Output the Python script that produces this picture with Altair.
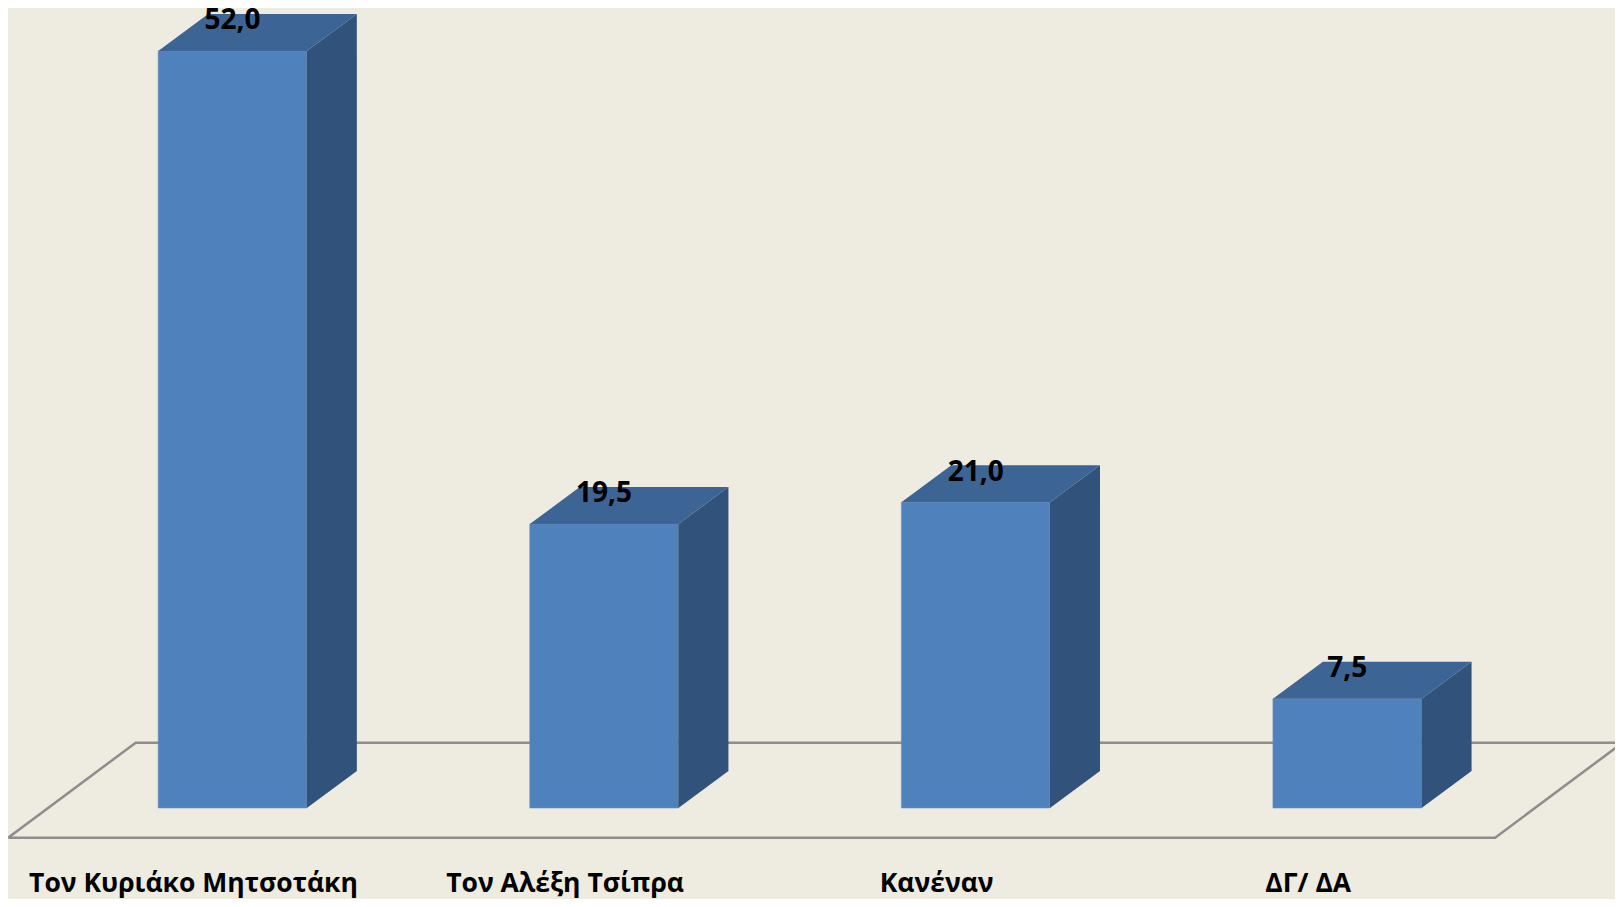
import altair as alt
import pandas as pd

# ---- data ----
categories = ["Τον Κυριάκο Μητσοτάκη", "Τον Αλέξη Τσίπρα", "Κανέναν", "ΔΓ/ ΔΑ"]
values = [52.0, 19.5, 21.0, 7.5]
value_labels = ["52,0", "19,5", "21,0", "7,5"]

# ---- geometry / style constants (in scale units) ----
HALF_W = 0.2
DX = 0.1346
DY = 2.54
LABEL_SHIFT = -0.105
LABEL_Y = -5.8
VAL_OFF = 1.49
X_DOM = [-0.6042, 3.7206]
Y_DOM = [-6.25, 54.945]

FRONT = "#4F81BD"
TOP = "#3C6596"
SIDE = "#31527A"
FLOOR = "#8E8E8E"
BG = "#EEEBE1"
FONT = "Open Sans"

base = pd.DataFrame({"cat": categories, "value": values, "label": value_labels,
                     "i": list(range(len(categories)))})

front = base.assign(u0=base.i - HALF_W, u1=base.i + HALF_W, zero=0.0)

side_rows, top_rows = [], []
for i, (c, v) in enumerate(zip(categories, values)):
    r = i + HALF_W
    l = i - HALF_W
    side_rows.append({"bar": i, "u": r, "lo": 0.0, "hi": v})
    side_rows.append({"bar": i, "u": r + DX, "lo": DY, "hi": v + DY})
    top_rows.append({"bar": i, "u": l, "lo": v, "hi": v})
    top_rows.append({"bar": i, "u": l + DX, "lo": v, "hi": v + DY})
    top_rows.append({"bar": i, "u": r, "lo": v, "hi": v + DY})
    top_rows.append({"bar": i, "u": r + DX, "lo": v + DY, "hi": v + DY})
side = pd.DataFrame(side_rows)
top = pd.DataFrame(top_rows)

f_front_l, f_front_r = -0.6035, 3.398
f_dx, f_back, f_front = 0.343, 4.485, -2.04
floor = pd.DataFrame({
    "u": [f_front_l, f_front_r, f_front_r + f_dx, f_front_l + f_dx, f_front_l],
    "v": [f_front, f_front, f_back, f_back, f_front],
    "o": [0, 1, 2, 3, 4],
})

xs = alt.Scale(domain=X_DOM, nice=False, zero=False)
ys = alt.Scale(domain=Y_DOM, nice=False, zero=False)

floor_layer = alt.Chart(floor).mark_line(color=FLOOR, strokeWidth=2.5).encode(
    x=alt.X("u:Q", scale=xs, axis=None),
    y=alt.Y("v:Q", scale=ys, axis=None),
    order="o:Q",
)

front_layer = alt.Chart(front).mark_rect(color=FRONT, stroke="#6E8FB8", strokeWidth=0.6).encode(
    x=alt.X("u0:Q", scale=xs, axis=None),
    x2="u1:Q",
    y=alt.Y("zero:Q", scale=ys, axis=None),
    y2="value:Q",
)

side_layer = alt.Chart(side).mark_area(fill=SIDE, opacity=1, orient="vertical").encode(
    x=alt.X("u:Q", scale=xs, axis=None),
    y=alt.Y("lo:Q", scale=ys, axis=None),
    y2=alt.Y2("hi:Q"),
    detail="bar:N",
)

top_layer = alt.Chart(top).mark_area(fill=TOP, opacity=1, orient="vertical").encode(
    x=alt.X("u:Q", scale=xs, axis=None),
    y=alt.Y("lo:Q", scale=ys, axis=None),
    y2=alt.Y2("hi:Q"),
    detail="bar:N",
)

val_text = alt.Chart(base).transform_calculate(
    ty=f"datum.value + {VAL_OFF}"
).mark_text(font=FONT, fontSize=28, fontWeight="bold", color="#000000",
            align="center", baseline="alphabetic").encode(
    x=alt.X("i:Q", scale=xs, axis=None),
    y=alt.Y("ty:Q", scale=ys, axis=None),
    text="label:N",
)

cat_text = alt.Chart(base).transform_calculate(
    tx=f"datum.i + {LABEL_SHIFT}", ty=f"{LABEL_Y}"
).mark_text(font=FONT, fontSize=26.5, fontWeight="bold", color="#000000",
            align="center", baseline="alphabetic").encode(
    x=alt.X("tx:Q", scale=xs, axis=None),
    y=alt.Y("ty:Q", scale=ys, axis=None),
    text="cat:N",
)

chart = alt.layer(
    floor_layer, front_layer, side_layer, top_layer, val_text, cat_text
).properties(
    width=1607, height=891, background=BG, padding=0,
    autosize=alt.AutoSizeParams(type="none"),
).configure_view(stroke=None)

chart.save("out.html", embed_options={"renderer": "svg", "actions": False})
